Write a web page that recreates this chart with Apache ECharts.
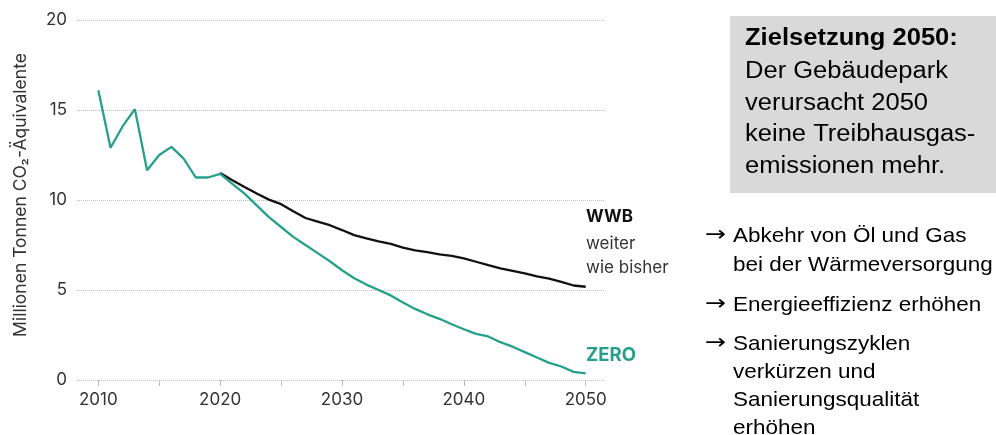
<!DOCTYPE html>
<html>
<head>
<meta charset="utf-8">
<script src="https://cdn.jsdelivr.net/npm/echarts@6/dist/echarts.min.js"></script>
<style>
  html, body { margin: 0; padding: 0; background: #fff; }
  #main { width: 996px; height: 435px; }
</style>
</head>
<body>
<div id="main"></div>
<script>
/** Jahre */
let years = [];
for (let y = 2010; y <= 2050; y++) years.push(y);
/** ZERO-Pfad (inkl. Historie 2010-2019) */
let zeroValues = [16.1, 12.9, 14.1, 15.05, 11.65, 12.5, 12.95, 12.3, 11.25, 11.25,
  11.45, 10.9, 10.35, 9.7, 9.05, 8.5, 7.95, 7.5, 7.05, 6.6,
  6.1, 5.65, 5.3, 5.0, 4.7, 4.3, 3.95, 3.65, 3.4, 3.1,
  2.82, 2.56, 2.42, 2.1, 1.85, 1.55, 1.25, 0.95, 0.75, 0.45, 0.37];
/** WWB-Pfad ab 2020 */
let wwbYears = years.slice(10);
let wwbValues = [11.5, 11.1, 10.72, 10.36, 10.02, 9.77, 9.38, 9.0, 8.8, 8.6,
  8.33, 8.05, 7.87, 7.7, 7.56, 7.35, 7.2, 7.1, 6.98, 6.9,
  6.76, 6.57, 6.38, 6.2, 6.06, 5.92, 5.76, 5.63, 5.45, 5.25, 5.18];
/** Achsen */
let yTicks = [0, 5, 10, 15, 20];
let xLabelYears = [2010, 2020, 2030, 2040, 2050];
let xTickYears = [2010, 2015, 2020, 2025, 2030, 2035, 2040, 2045, 2050];

let green = '#26a08c';
let chartFont = 'Inter, "Noto Sans", sans-serif';
let boxFont = '"Liberation Sans", Arial, sans-serif';

let chart = echarts.init(document.getElementById('main'));

let zipData = function (xs, vs) {
  return xs.map((x, i) => [x, vs[i]]);
};

let boxLines = ['Der Gebäudepark', 'verursacht 2050', 'keine Treibhausgas-', 'emissionen mehr.'];
let bulletArrows = [236, 305, 344];
let bulletLines = [
  { t: 'Abkehr von Öl und Gas', y: 236 },
  { t: 'bei der Wärmeversorgung', y: 265 },
  { t: 'Energieeffizienz erhöhen', y: 305 },
  { t: 'Sanierungszyklen', y: 344 },
  { t: 'verkürzen und', y: 372 },
  { t: 'Sanierungsqualität', y: 400 },
  { t: 'erhöhen', y: 428 }
];

let graphics = [
  {
    type: 'text', x: 21, y: 195, rotation: Math.PI / 2,
    style: {
      text: 'Millionen Tonnen CO₂-Äquivalente', font: '17.5px ' + chartFont,
      fill: '#333', align: 'center', verticalAlign: 'middle'
    }
  },
  { type: 'text', x: 586, y: 217, style: { text: 'WWB', font: 'bold 17px ' + chartFont, fill: '#111', verticalAlign: 'middle' } },
  { type: 'text', x: 586, y: 244, style: { text: 'weiter', font: '17px ' + chartFont, fill: '#333', verticalAlign: 'middle' } },
  { type: 'text', x: 586, y: 268, style: { text: 'wie bisher', font: '17px ' + chartFont, fill: '#333', verticalAlign: 'middle' } },
  { type: 'text', x: 586, y: 355, style: { text: 'ZERO', font: 'bold 18.5px ' + chartFont, fill: green, verticalAlign: 'middle' } },
  { type: 'rect', shape: { x: 730, y: 16, width: 266, height: 177 }, style: { fill: '#d9d9d9' } },
  { type: 'text', x: 745, y: 38.5, scaleX: 1.11, style: { text: 'Zielsetzung 2050:', font: 'bold 23px ' + boxFont, fill: '#000', verticalAlign: 'middle' } }
];
boxLines.forEach((t, i) => {
  graphics.push({ type: 'text', x: 745, y: 72 + i * 31.5, scaleX: 1.11, style: { text: t, font: '23px ' + boxFont, fill: '#000', verticalAlign: 'middle' } });
});
bulletArrows.forEach(y => {
  graphics.push({ type: 'text', x: 705, y: y, scaleX: 1.2, style: { text: '→', font: '21px "DejaVu Sans", sans-serif', fill: '#000', verticalAlign: 'middle' } });
});
bulletLines.forEach(item => {
  graphics.push({ type: 'text', x: 733, y: item.y, scaleX: 1.07, style: { text: item.t, font: '21px ' + boxFont, fill: '#000', verticalAlign: 'middle' } });
});

let option = {
  animation: false,
  grid: { left: 77, right: 392, top: 20, bottom: 55, containLabel: false },
  xAxis: {
    type: 'value', min: 2008.25, max: 2051.5,
    axisLine: { show: false },
    splitLine: { show: false },
    axisTick: { show: true, length: 6, customValues: xTickYears, lineStyle: { color: '#bbb', width: 1 } },
    axisLabel: {
      customValues: xLabelYears, fontSize: 17, color: '#333', fontFamily: chartFont, margin: 11,
      formatter: v => String(v)
    }
  },
  yAxis: {
    type: 'value', min: yTicks[0], max: yTicks[yTicks.length - 1], interval: 5,
    axisLine: { show: false }, axisTick: { show: false },
    axisLabel: { fontSize: 17, color: '#333', fontFamily: chartFont, margin: 10 },
    splitLine: { show: true, lineStyle: { color: '#bbb', type: 'dotted', width: 1 } }
  },
  series: [
    {
      name: 'WWB', type: 'line', data: zipData(wwbYears, wwbValues),
      showSymbol: false, lineStyle: { color: '#111', width: 2.3 }, z: 2
    },
    {
      name: 'ZERO', type: 'line', data: zipData(years, zeroValues),
      showSymbol: false, lineStyle: { color: green, width: 2.3 }, z: 3
    }
  ],
  graphic: graphics
};
chart.setOption(option);
</script>
</body>
</html>
